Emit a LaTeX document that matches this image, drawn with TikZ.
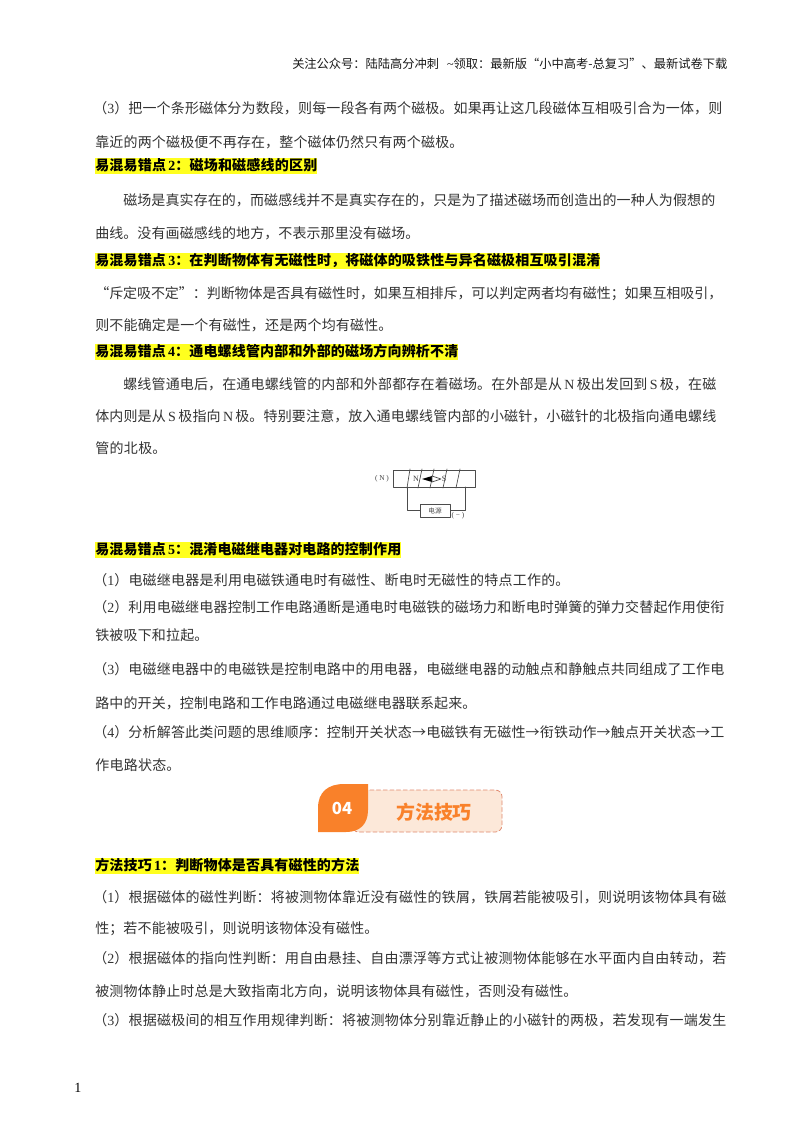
\documentclass[tikz,border=0pt]{standalone}
\usepackage{fontspec}
\setmainfont{Noto Sans CJK SC}
\newfontfamily\latfont{Liberation Serif}
\newcommand{\lat}[1]{{\latfont #1}}
\XeTeXlinebreaklocale "zh"
\XeTeXlinebreakskip=0pt plus 4pt minus 1pt
\definecolor{badgeorange}{HTML}{F9812A}
\definecolor{badgepink}{HTML}{FCE8D9}
\definecolor{badgedash}{HTML}{E0896E}
\definecolor{marker}{HTML}{FFFF1E}
\newcommand{\fitline}[3]{\vbox{\hsize=\dimexpr#2pt*3/4-#1pt*3/4\relax\parindent=0pt\parfillskip=0pt\tolerance=10000\hbadness=10000\linepenalty=9000\noindent #3}}
\tikzset{
  bodyline/.style={anchor=base west, inner sep=0pt, font=\fontsize{10.5}{12}\selectfont, text=black!80},
  markline/.style={anchor=west, inner sep=0pt, fill=marker, text height=8.9pt, text depth=2.4pt, font=\fontsize{10.5}{12}\selectfont\bfseries},
  wire/.style={line width=.5pt, black!70},
}
\begin{document}
\begin{tikzpicture}[x=.75pt, y=-.75pt, line join=round, line cap=round]
\useasboundingbox[fill=white] (0,0) rectangle (800,1132);
% header and page number
\node[anchor=west, inner sep=0pt, font=\fontsize{9.2}{11}\selectfont, text=black!90] (head) at (292,64) {\fitline{292}{727}{关注公众号：陆陆高分冲刺\hspace{6pt}\lat{\textasciitilde}领取：最新版“小中高考-总复习”、最新试卷下载}};
\node[anchor=base west, inner sep=0pt, font=\latfont\fontsize{10.5}{12}\selectfont] (pageno) at (74,1092) {1};
% plain lines
\foreach \x/\y/\e/\t in {
93/108/722/{（\lat{3}）把一个条形磁体分为数段，则每一段各有两个磁极。如果再让这几段磁体互相吸引合为一体，则},
95/142/463/{靠近的两个磁极便不再存在，整个磁体仍然只有两个磁极。},
123/200/715/{磁场是真实存在的，而磁感线并不是真实存在的，只是为了描述磁场而创造出的一种人为假想的},
95/233/419/{曲线。没有画磁感线的地方，不表示那里没有磁场。},
95/293/722/{“斥定吸不定”：判断物体是否具有磁性时，如果互相排斥，可以判定两者均有磁性；如果互相吸引，},
95/325/392/{则不能确定是一个有磁性，还是两个均有磁性。},
123/384/716/{螺线管通电后，在通电螺线管的内部和外部都存在着磁场。在外部是从\,\lat{N}\,极出发回到\,\lat{S}\,极，在磁},
95/416/716/{体内则是从\,\lat{S}\,极指向\,\lat{N}\,极。特别要注意，放入通电螺线管内部的小磁针，小磁针的北极指向通电螺线},
95/448/166/{管的北极。},
93/580/569/{（\lat{1}）电磁继电器是利用电磁铁通电时有磁性、断电时无磁性的特点工作的。},
93/607/724/{（\lat{2}）利用电磁继电器控制工作电路通断是通电时电磁铁的磁场力和断电时弹簧的弹力交替起作用使衔},
95/635/208/{铁被吸下和拉起。},
93/669/724/{（\lat{3}）电磁继电器中的电磁铁是控制电路中的用电器，电磁继电器的动触点和静触点共同组成了工作电},
95/703/476/{路中的开关，控制电路和工作电路通过电磁继电器联系起来。},
93/732/724/{（\lat{4}）分析解答此类问题的思维顺序：控制开关状态→电磁铁有无磁性→衔铁动作→触点开关状态→工},
95/765/180/{作电路状态。},
93/897/726/{（\lat{1}）根据磁体的磁性判断：将被测物体靠近没有磁性的铁屑，铁屑若能被吸引，则说明该物体具有磁},
95/928/378/{性；若不能被吸引，则说明该物体没有磁性。},
93/958/726/{（\lat{2}）根据磁体的指向性判断：用自由悬挂、自由漂浮等方式让被测物体能够在水平面内自由转动，若},
95/991/577/{被测物体静止时总是大致指南北方向，说明该物体具有磁性，否则没有磁性。},
93/1020/726/{（\lat{3}）根据磁极间的相互作用规律判断：将被测物体分别靠近静止的小磁针的两极，若发现有一端发生}}
\node[bodyline] (line\y) at (\x,\y+5) {\fitline{\x}{\e}{\t}};
% marked headings
\foreach \y/\e/\t in {
166/317/{易混易错点\,\lat{2}：磁场和磁感线的区别},
261/600/{易混易错点\,\lat{3}：在判断物体有无磁性时，将磁体的吸铁性与异名磁极相互吸引混淆},
352/458/{易混易错点\,\lat{4}：通电螺线管内部和外部的磁场方向辨析不清},
550/401/{易混易错点\,\lat{5}：混淆电磁继电器对电路的控制作用},
866/359/{方法技巧\,\lat{1}：判断物体是否具有磁性的方法}}
\node[markline] (mark\y) at (95,\y) {\fitline{95}{\e}{\t}};
% solenoid
\node[draw, wire, minimum width=61.5pt, minimum height=12.8pt, inner sep=0pt] (core) at (434,478.5) {};
\node[draw, wire, fill=white, minimum width=22.5pt, minimum height=9.8pt, inner sep=0pt, font=\fontsize{5}{6}\selectfont, text=black!70] (source) at (435,510.5) {电源};
\node[font=\latfont\fontsize{5.5}{6}\selectfont, text=black!75, inner sep=0pt] (north) at (382,479) {( N )};
\node[font=\latfont\fontsize{5.5}{6}\selectfont, text=black!75, inner sep=0pt] (minus) at (458,516) {( − )};
\node[font=\latfont\fontsize{6}{7}\selectfont, text=black!75, inner sep=0pt] (poleN) at (416,479) {N};
\node[font=\latfont\fontsize{6}{7}\selectfont, text=black!75, inner sep=0pt] (poleS) at (444,479) {S};
\foreach \a/\b in {410/407,422/418,434/430,447/443,460/456}
\draw[wire] (\a,469) -- (\b,488);
\coordinate (leftlead) at (407,487);
\coordinate (rightlead) at (465,487);
\draw[wire] (leftlead) |- (source.west);
\draw[wire] (rightlead) |- (source.east);
\fill[black] (422,479) -- (432,476) -- (432,482) -- cycle;
\draw[wire, fill=white] (432,476) -- (441,479) -- (432,482) -- cycle;
% badge
\draw[badgedash, fill=badgepink, densely dashed, line width=.6pt, rounded corners=5pt] (352,790) rectangle (502,832);
\fill[badgeorange] (318,832) -- (318,808) .. controls (318,792) and (328,784) .. (344,784) -- (368,784) -- (368,810) .. controls (368,824) and (360,832) .. (346,832) -- cycle;
\node[text=white, inner sep=0pt, font=\fontsize{12.5}{14}\selectfont\bfseries] (badgeno) at (342,808.5) {04};
\node[text=badgeorange, inner sep=0pt, font=\fontsize{14.2}{16}\selectfont\bfseries] (badgetext) at (434,812) {方法技巧};
\end{tikzpicture}
\end{document}
